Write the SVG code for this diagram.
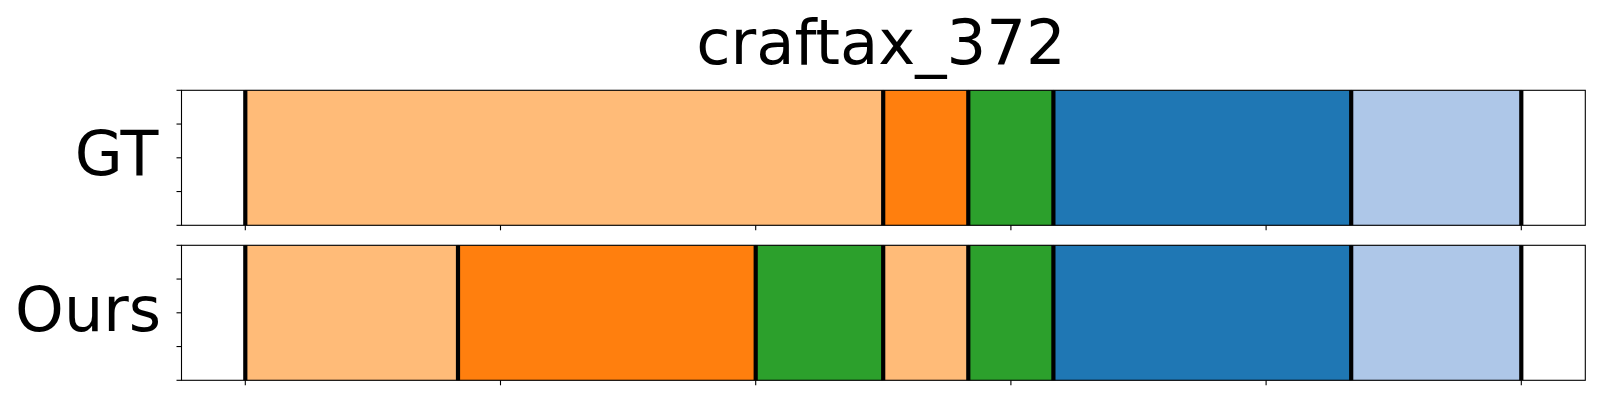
<svg xmlns="http://www.w3.org/2000/svg" width="1600" height="400" viewBox="0 0 1600 400">
<style>
text{font-family:"DejaVu Sans","Liberation Sans",sans-serif;fill:#000}
.title{font-size:62.5px;text-anchor:middle}
.lab{font-size:62px;text-anchor:end}
.spine{fill:none;stroke:#000;stroke-width:1.1}
.tick{stroke:#000;stroke-width:1.1}
.sep{stroke:#000;stroke-width:4.2}
.lo{fill:#ffbb78}.o{fill:#ff7f0e}.g{fill:#2ca02c}.b{fill:#1f77b4}.lb{fill:#aec7e8}
.seg rect{stroke:#000;stroke-opacity:0.15;stroke-width:1}
</style>
<rect width="1600" height="400" fill="#fff"/>
<text class="title" x="881" y="63.5">craftax_372</text>

<g id="gt">
  <text class="lab" x="158.5" y="174.5">GT</text>
  <g class="seg">
    <rect class="lo" x="245.3" y="90.3" width="637.9" height="135"/>
    <rect class="o" x="883.2" y="90.3" width="85.1" height="135"/>
    <rect class="g" x="968.3" y="90.3" width="85.1" height="135"/>
    <rect class="b" x="1053.4" y="90.3" width="297.8" height="135"/>
    <rect class="lb" x="1351.2" y="90.3" width="170.1" height="135"/>
  </g>
  <g class="sep">
    <line x1="245.3" y1="90.3" x2="245.3" y2="225.3"/>
    <line x1="883.2" y1="90.3" x2="883.2" y2="225.3"/>
    <line x1="968.3" y1="90.3" x2="968.3" y2="225.3"/>
    <line x1="1053.4" y1="90.3" x2="1053.4" y2="225.3"/>
    <line x1="1351.2" y1="90.3" x2="1351.2" y2="225.3"/>
    <line x1="1521.3" y1="90.3" x2="1521.3" y2="225.3"/>
  </g>
  <rect class="spine" x="181.5" y="90.3" width="1403.8" height="135"/>
  <g class="tick">
    <line x1="176.5" y1="90.3" x2="181.5" y2="90.3"/>
    <line x1="176.5" y1="124.05" x2="181.5" y2="124.05"/>
    <line x1="176.5" y1="157.8" x2="181.5" y2="157.8"/>
    <line x1="176.5" y1="191.55" x2="181.5" y2="191.55"/>
    <line x1="176.5" y1="225.3" x2="181.5" y2="225.3"/>
    <line x1="245.3" y1="225.3" x2="245.3" y2="230.3"/>
    <line x1="500.5" y1="225.3" x2="500.5" y2="230.3"/>
    <line x1="755.7" y1="225.3" x2="755.7" y2="230.3"/>
    <line x1="1010.9" y1="225.3" x2="1010.9" y2="230.3"/>
    <line x1="1266.1" y1="225.3" x2="1266.1" y2="230.3"/>
    <line x1="1521.3" y1="225.3" x2="1521.3" y2="230.3"/>
  </g>
</g>

<g id="ours">
  <text class="lab" x="161" y="331">Ours</text>
  <g class="seg">
    <rect class="lo" x="245.3" y="245.3" width="212.7" height="135"/>
    <rect class="o" x="458" y="245.3" width="297.7" height="135"/>
    <rect class="g" x="755.7" y="245.3" width="127.5" height="135"/>
    <rect class="lo" x="883.2" y="245.3" width="85.1" height="135"/>
    <rect class="g" x="968.3" y="245.3" width="85.1" height="135"/>
    <rect class="b" x="1053.4" y="245.3" width="297.8" height="135"/>
    <rect class="lb" x="1351.2" y="245.3" width="170.1" height="135"/>
  </g>
  <g class="sep">
    <line x1="245.3" y1="245.3" x2="245.3" y2="380.3"/>
    <line x1="458" y1="245.3" x2="458" y2="380.3"/>
    <line x1="755.7" y1="245.3" x2="755.7" y2="380.3"/>
    <line x1="883.2" y1="245.3" x2="883.2" y2="380.3"/>
    <line x1="968.3" y1="245.3" x2="968.3" y2="380.3"/>
    <line x1="1053.4" y1="245.3" x2="1053.4" y2="380.3"/>
    <line x1="1351.2" y1="245.3" x2="1351.2" y2="380.3"/>
    <line x1="1521.3" y1="245.3" x2="1521.3" y2="380.3"/>
  </g>
  <rect class="spine" x="181.5" y="245.3" width="1403.8" height="135"/>
  <g class="tick">
    <line x1="176.5" y1="245.3" x2="181.5" y2="245.3"/>
    <line x1="176.5" y1="279.05" x2="181.5" y2="279.05"/>
    <line x1="176.5" y1="312.8" x2="181.5" y2="312.8"/>
    <line x1="176.5" y1="346.55" x2="181.5" y2="346.55"/>
    <line x1="176.5" y1="380.3" x2="181.5" y2="380.3"/>
    <line x1="245.3" y1="380.3" x2="245.3" y2="385.3"/>
    <line x1="500.5" y1="380.3" x2="500.5" y2="385.3"/>
    <line x1="755.7" y1="380.3" x2="755.7" y2="385.3"/>
    <line x1="1010.9" y1="380.3" x2="1010.9" y2="385.3"/>
    <line x1="1266.1" y1="380.3" x2="1266.1" y2="385.3"/>
    <line x1="1521.3" y1="380.3" x2="1521.3" y2="385.3"/>
  </g>
</g>
</svg>
